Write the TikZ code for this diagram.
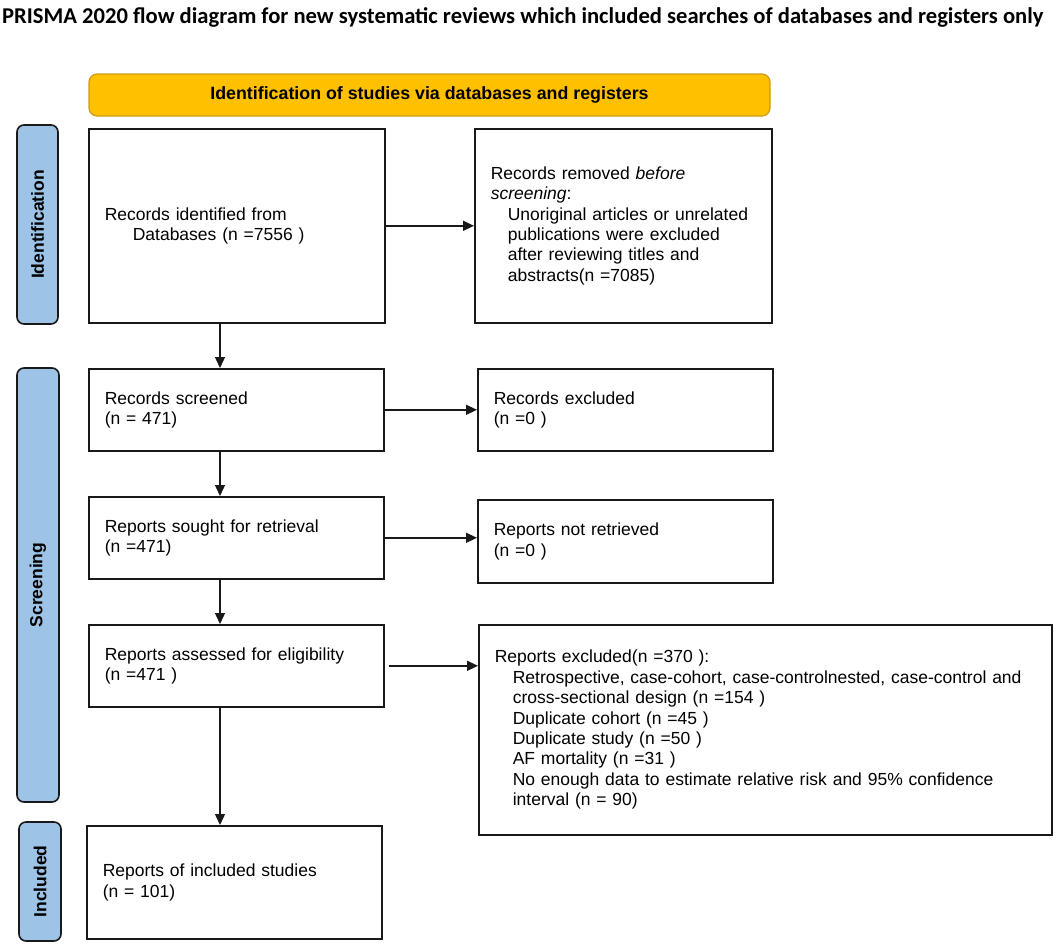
\documentclass[tikz,border=0pt]{standalone}
\usepackage{fontspec}
\setmainfont{Liberation Sans}
\newfontfamily\titlefont{Carlito}
\usetikzlibrary{arrows.meta}
\definecolor{tabblue}{RGB}{157,195,230}
\definecolor{gold}{RGB}{255,192,0}
\definecolor{golddark}{RGB}{205,155,20}
\definecolor{ink}{RGB}{25,25,25}
\begin{document}
\begin{tikzpicture}[x=1pt,y=-1pt,
  box/.style={draw=ink, line width=1.6pt, inner xsep=16pt, inner ysep=0pt,
    align=left, anchor=north west, font=\fontsize{17.5}{20.4}\selectfont},
  tab/.style={draw=ink, line width=1.6pt, fill=tabblue, rounded corners=7pt,
    inner sep=0pt, font=\bfseries\fontsize{17.5}{20}\selectfont},
  banner/.style={draw=golddark, line width=1.2pt, fill=gold, rounded corners=8pt,
    inner sep=0pt, font=\bfseries\fontsize{17.8}{20}\selectfont},
  arr/.style={draw=ink, line width=1.4pt, -{Triangle[length=11pt,width=10pt]}}]
\useasboundingbox (0,0) rectangle (1055,948);

\node[anchor=base west, inner sep=0pt, font=\titlefont\bfseries\fontsize{22.6}{24}\selectfont] (title) at (2,23)
  {PRISMA 2020 flow diagram for new systematic reviews which included searches of databases and registers only};

\node[banner, minimum width=681pt, minimum height=42pt] (banner) at (429.5,95)
  {Identification of studies via databases and registers};

\node[tab, minimum width=41pt, minimum height=199pt] (tabid) at (37.5,224.5) {\rotatebox{90}{Identification}};
\node[tab, minimum width=42pt, minimum height=434pt] (tabscr) at (38,585) {\rotatebox{90}{Screening}};
\node[tab, minimum width=42pt, minimum height=119pt] (tabinc) at (40,881.5) {\rotatebox{90}{Included}};

\node[box, minimum width=296pt, minimum height=194pt, text width=264pt] (ident) at (88,128)
  {Records identified from\\\hspace*{28pt}Databases (n =7556 )};
\node[box, minimum width=297pt, minimum height=194pt, text width=265pt] (removed) at (474,128)
  {Records removed \textit{before}\\\textit{screening}:\\
   \hspace*{17pt}Unoriginal articles or unrelated\\
   \hspace*{17pt}publications were excluded\\
   \hspace*{17pt}after reviewing titles and\\
   \hspace*{17pt}abstracts(n =7085)};

\node[box, minimum width=295pt, minimum height=82pt, text width=263pt] (screened) at (88,368)
  {Records screened\\(n = 471)};
\node[box, minimum width=295pt, minimum height=82pt, text width=263pt] (excluded) at (477,368)
  {Records excluded\\(n =0 )};

\node[box, minimum width=295pt, minimum height=82pt, text width=263pt] (sought) at (88,496)
  {Reports sought for retrieval\\(n =471)};
\node[box, minimum width=295pt, minimum height=83pt, text width=263pt] (notret) at (477,499)
  {Reports not retrieved\\(n =0 )};

\node[box, minimum width=295pt, minimum height=82pt, text width=263pt] (assessed) at (88,624)
  {Reports assessed for eligibility\\(n =471 )};
\node[box, minimum width=573pt, minimum height=210pt, text width=541pt] (repexcl) at (478,624)
  {Reports excluded(n =370 ):\\
   \hspace*{18pt}Retrospective, case-cohort, case-controlnested, case-control and\\
   \hspace*{18pt}cross-sectional design (n =154 )\\
   \hspace*{18pt}Duplicate cohort (n =45 )\\
   \hspace*{18pt}Duplicate study (n =50 )\\
   \hspace*{18pt}AF mortality (n =31 )\\
   \hspace*{18pt}No enough data to estimate relative risk and 95\% confidence\\
   \hspace*{18pt}interval (n = 90)};

\node[box, minimum width=295pt, minimum height=113pt, text width=263pt] (included) at (86,825)
  {Reports of included studies\\(n = 101)};

\coordinate (vx) at (220,0);
\draw[arr] (ident.south -| vx) -- (screened.north -| vx);
\draw[arr] (screened.south -| vx) -- (sought.north -| vx);
\draw[arr] (sought.south -| vx) -- (assessed.north -| vx);
\draw[arr] (assessed.south -| vx) -- (included.north -| vx);

\draw[arr] (ident.east) -- (removed.west |- ident.east);
\draw[arr] (screened.east) -- (excluded.west |- screened.east);
\draw[arr] (sought.east) -- (notret.west |- sought.east);
\draw[arr] ([xshift=4pt]assessed.east) -- (repexcl.west |- assessed.east);
\end{tikzpicture}
\end{document}
